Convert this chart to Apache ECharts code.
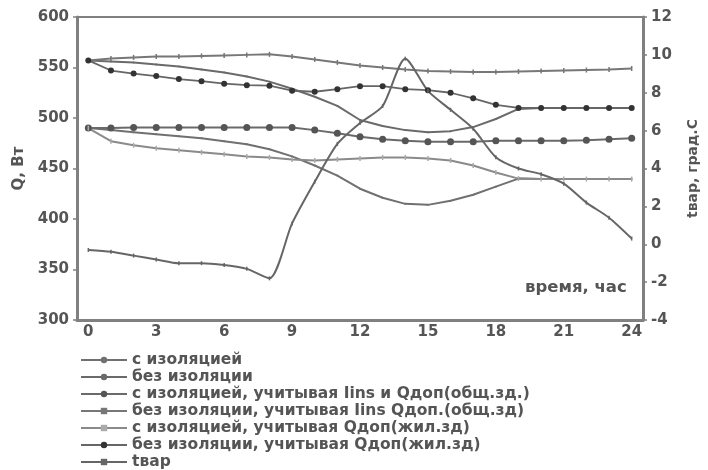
<!DOCTYPE html>
<html><head><meta charset="utf-8">
<script src="https://cdn.jsdelivr.net/npm/echarts@6/dist/echarts.min.js"></script>
<style>html,body{margin:0;padding:0;background:#fff}#c{width:708px;height:470px}</style>
</head><body><div id="c"></div>
<script>
const hours = ['0','1','2','3','4','5','6','7','8','9','10','11','12','13','14','15','16','17','18','19','20','21','22','23','24'];
const names = [
  'с изоляцией',
  'без изоляции',
  'с изоляцией, учитывая Iins и Qдоп(общ.зд.)',
  'без изоляции, учитывая Iins Qдоп.(общ.зд)',
  'с изоляцией, учитывая Qдоп(жил.зд)',
  'без изоляции, учитывая Qдоп(жил.зд)',
  'tвар'
];
const sIzol = [490,488,486,484,482,480,477,474,469,462,453,443,430,421,415,414,418,424,432,440,439.5,439.5,439.5,439.5,439.5];
const bezIzol = [557,556,555,553,551,548,545,541,536,529,521,512,498,492,488,486,487,491,499,509,510,510,510,510,510];
const sIzolIinsObsch = [490,490,490.5,490.5,490.5,490.5,490.5,490.5,490.5,490.5,488,485,481.5,479,477.5,476.5,476.5,476.5,477.5,477.5,477.5,477.5,478,479,480];
const bezIzolIinsObsch = [557,559,560,561,561,561.5,562,562.5,563,561,558,555,552,550,548,546.5,546,545.5,545.5,546,546.5,547,547.5,548,549];
const sIzolZhil = [490,477,473,470,468,466,464,462,461,459,458,459,460,461,461,460,458,453,446,440,439.5,439.5,439.5,439.5,439.5];
const bezIzolZhil = [557,547,544,541.5,538.5,536.5,534,532.5,532,527,526,528.5,531.5,531.5,528.5,527.5,525,519.5,513,510,510,510,510,510,510];
const tVar = [-0.3,-0.4,-0.6,-0.8,-1.0,-1.0,-1.1,-1.3,-1.8,1.1,3.3,5.3,6.4,7.3,9.8,8.1,7.1,6.1,4.6,4.0,3.7,3.2,2.2,1.4,0.3];

const FONT = 'DejaVu Sans';
const txt = {fontFamily: FONT, fontWeight: 'bold', fontSize: 15, color: '#555'};
const tick = 'rect';
function ser(name, data, o) {
  return Object.assign({
    name, type: 'line', data, yAxisIndex: 0,
    lineStyle: {color: o.color, width: o.width || 2, type: o.dash || 'solid'},
    itemStyle: {color: o.mcolor || o.color},
    symbol: o.symbol, symbolSize: o.size,
    showSymbol: true, smooth: o.smooth || false, z: o.z || 2
  }, o.extra || {});
}
const chart = echarts.init(document.getElementById('c'));
chart.setOption({
  animation: false,
  grid: {left: 77, right: 44, top: 17, bottom: 150, show: true, borderColor: '#808080', borderWidth: 2},
  legend: {
    orient: 'vertical', left: 80, top: 352, padding: 0, itemWidth: 46, itemHeight: 8, itemGap: 1,
    textStyle: Object.assign({}, txt, {fontSize: 15.5, lineHeight: 15.5, color: '#555'}),
    data: names
  },
  xAxis: {
    type: 'category', data: hours, boundaryGap: true,
    axisLine: {onZero: false, lineStyle: {color: '#808080', width: 3}},
    axisTick: {interval: 0, length: 4, lineStyle: {color: '#808080', width: 1.5}},
    axisLabel: Object.assign({interval: 2, margin: 5}, txt),
    splitLine: {show: false}
  },
  yAxis: [
    {type: 'value', min: 300, max: 600, interval: 50, position: 'left',
     name: 'Q, Вт', nameLocation: 'middle', nameGap: 50, nameRotate: 90,
     nameTextStyle: txt,
     axisLine: {show: true, onZero: false, lineStyle: {color: '#808080', width: 3}},
     axisTick: {show: true, length: 4, lineStyle: {color: '#808080', width: 1.5}},
     axisLabel: Object.assign({margin: 8}, txt), splitLine: {show: false}},
    {type: 'value', min: -4, max: 12, interval: 2, position: 'right',
     name: 'tвар, град.С', nameLocation: 'middle', nameGap: 43, nameRotate: 90,
     nameTextStyle: Object.assign({}, txt, {fontSize: 14}),
     axisLine: {show: true, onZero: false, lineStyle: {color: '#808080', width: 3}},
     axisTick: {show: true, length: 4, lineStyle: {color: '#808080', width: 1.5}},
     axisLabel: Object.assign({margin: 8}, txt), splitLine: {show: false}}
  ],
  graphic: [{type: 'text', left: 525, top: 279, style: {text: 'время, час', font: 'bold 16.5px "DejaVu Sans"', fill: '#555'}}],
  series: [
    ser(names[0], sIzol, {color: '#707070', symbol: 'circle', size: 2, mcolor: '#707070'}),
    ser(names[1], bezIzol, {color: '#6a6a6a', symbol: 'circle', size: 2}),
    ser(names[2], sIzolIinsObsch, {color: '#6a6a6a', symbol: 'circle', size: 7, mcolor: '#555'}),
    ser(names[3], bezIzolIinsObsch, {color: '#777', symbol: tick, size: [1.5, 5]}),
    ser(names[4], sIzolZhil, {color: '#8a8a8a', symbol: tick, size: [1.5, 5], mcolor: '#aaa'}),
    ser(names[5], bezIzolZhil, {color: '#666', symbol: 'circle', size: 6, mcolor: '#333', width: 1.8}),
    ser(names[6], tVar, {color: '#666', symbol: tick, size: [1.5, 4], smooth: 0.25, extra: {yAxisIndex: 1}})
  ]
});
</script></body></html>
